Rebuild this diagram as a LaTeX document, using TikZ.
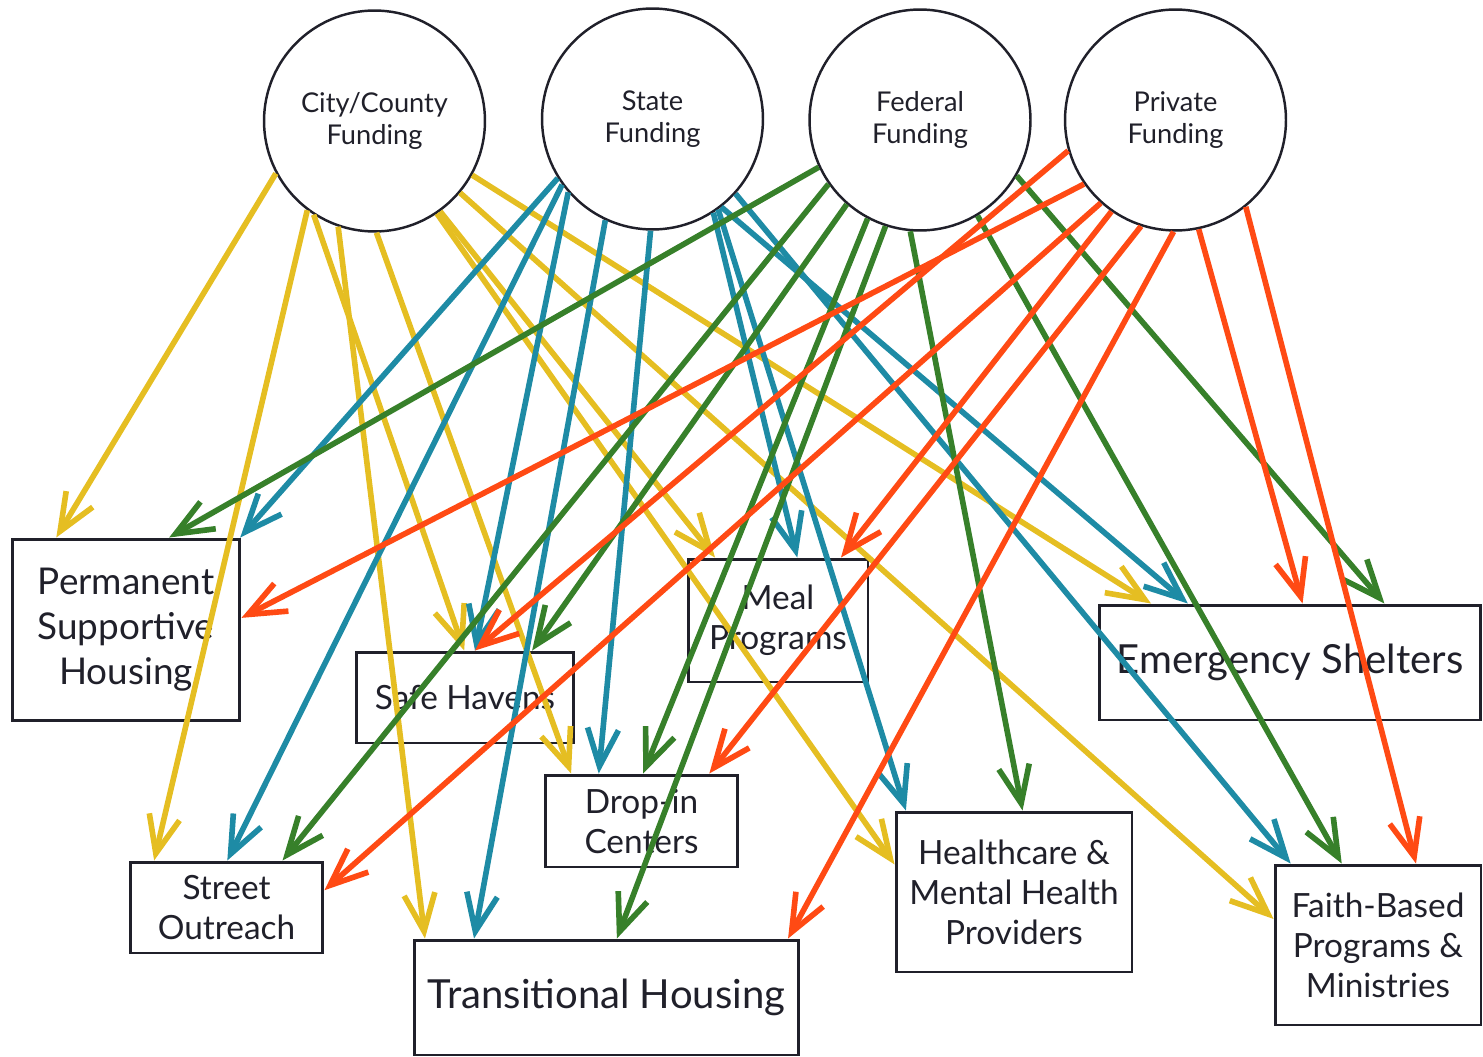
\documentclass[tikz,border=0pt]{standalone}
\usepackage{fontspec}
\setmainfont{Lato}
\usetikzlibrary{arrows.meta}
\definecolor{fyellow}{RGB}{229,190,34}
\definecolor{fteal}{RGB}{30,139,165}
\definecolor{fgreen}{RGB}{55,128,42}
\definecolor{fred}{RGB}{255,74,20}
\definecolor{ink}{RGB}{32,32,42}
\begin{document}
\begin{tikzpicture}[x=.02cm,y=-.02cm,>={Straight Barb[length=7.5mm,width=6.2mm]},
	fund/.style={circle,draw=ink,text=ink,line width=1.4pt,minimum size=4.42cm,inner sep=0pt,align=center,font=\fontsize{15.5}{18.2}\selectfont},
	prog/.style={draw=ink,text=ink,line width=1.7pt,inner sep=0pt,align=center,font=\fontsize{19}{22.8}\selectfont},
	big/.style={font=\fontsize{22.8}{27}\selectfont},
	flow/.style={->,line width=3.2pt}]
	\useasboundingbox (0,0) rectangle (1483,1057);
	\node[fund] (city) at (374.5,121) {City/County\\Funding};
	\node[fund] (state) at (652.5,119) {State\\Funding};
	\node[fund] (fed) at (920,120) {Federal\\Funding};
	\node[fund] (priv) at (1175.5,120) {Private\\Funding};
	\node[prog,minimum width=4.56cm,minimum height=3.64cm,font=\fontsize{21}{25.6}\selectfont] (psh) at (126,630) {Permanent\\Supportive\\Housing};
	\node[prog,minimum width=4.36cm,minimum height=1.82cm] (safe) at (465,697.5) {Safe Havens};
	\node[prog,minimum width=3.6cm,minimum height=2.46cm] (meal) at (778,620.5) {Meal\\Programs};
	\node[prog,big,minimum width=7.64cm,minimum height=2.3cm] (emerg) at (1290,662.5) {Emergency Shelters};
	\node[prog,minimum width=3.86cm,minimum height=1.84cm] (drop) at (641.5,821) {Drop-in\\Centers};
	\node[prog,minimum width=3.86cm,minimum height=1.82cm] (street) at (226.5,907.5) {Street\\Outreach};
	\node[prog,big,minimum width=7.7cm,minimum height=2.3cm] (trans) at (606.5,997.5) {Transitional Housing};
	\node[prog,minimum width=4.72cm,minimum height=3.2cm] (health) at (1014,892) {Healthcare \&\\Mental Health\\Providers};
	\node[prog,minimum width=4.12cm,minimum height=3.2cm] (faith) at (1378,945) {Faith-Based\\Programs \&\\Ministries};
	\draw[flow,fyellow] (city.208) -- (psh.127);
	\draw[flow,fyellow] (city.233) -- (street.147);
	\draw[flow,fyellow] (city.237) -- (safe.91);
	\draw[flow,fyellow] (city.251) -- (trans.162);
	\draw[flow,fyellow] (city.271) -- (drop.146);
	\draw[flow,fyellow] (city.306) -- (meal.135);
	\draw[flow,fyellow] (city.304) -- (health.167);
	\draw[flow,fyellow] (city.320) -- (faith.166);
	\draw[flow,fyellow] (city.331) -- (emerg.157);
	\draw[flow,fteal] (state.212) -- (psh.39);
	\draw[flow,fteal] (state.216) -- (street.89);
	\draw[flow,fteal] (state.221) -- (safe.78);
	\draw[flow,fteal] (state.245) -- (trans.156);
	\draw[flow,fteal] (state.269) -- (drop.132);
	\draw[flow,fteal] (state.303) -- (meal.73);
	\draw[flow,fteal] (state.306) -- (health.143);
	\draw[flow,fteal] (state.308) -- (emerg.150);
	\draw[flow,fteal] (state.318) -- (faith.137);
	\draw[flow,fgreen] (fed.205) -- (psh.65);
	\draw[flow,fgreen] (fed.215) -- (street.40);
	\draw[flow,fgreen] (fed.229) -- (safe.35);
	\draw[flow,fgreen] (fed.242) -- (drop.88);
	\draw[flow,fgreen] (fed.252) -- (trans.80);
	\draw[flow,fgreen] (fed.265) -- (health.84);
	\draw[flow,fgreen] (fed.301) -- (faith.114);
	\draw[flow,fgreen] (fed.330) -- (emerg.32);
	\draw[flow,fred] (priv.215) -- (psh.6);
	\draw[flow,fred] (priv.196) -- (safe.78);
	\draw[flow,fred] (priv.228) -- (street.10);
	\draw[flow,fred] (priv.235) -- (meal.45);
	\draw[flow,fred] (priv.252) -- (drop.35);
	\draw[flow,fred] (priv.269) -- (trans.18);
	\draw[flow,fred] (priv.282) -- (emerg.78);
	\draw[flow,fred] (priv.309) -- (faith.65);
\end{tikzpicture}
\end{document}
